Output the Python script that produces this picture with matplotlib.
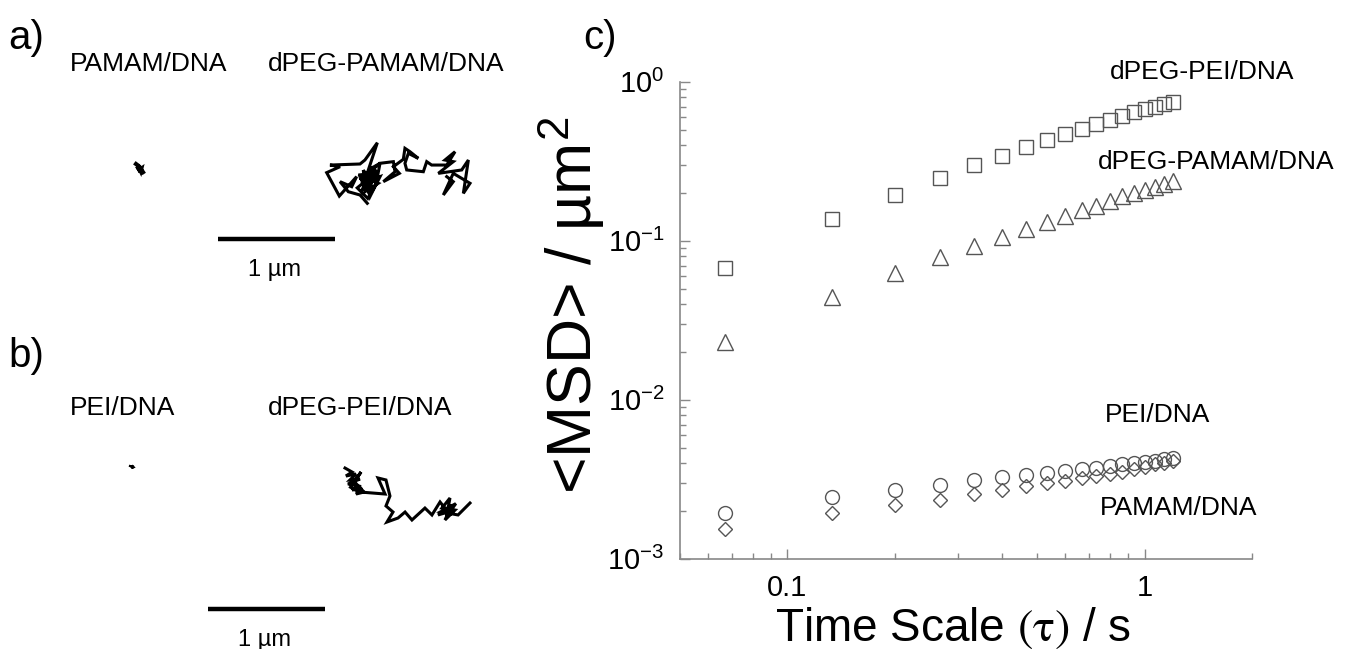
import numpy as np
import matplotlib
matplotlib.use("Agg")
from matplotlib import pyplot as plt
from matplotlib.ticker import FixedLocator, FixedFormatter, LogLocator, NullFormatter

plt.rcParams["font.family"] = ["Liberation Sans", "DejaVu Sans"]
plt.rcParams["mathtext.fontset"] = "stix"

W, H = 1359, 649
PX_PER_UM = 117.0

# --- panel c: ensemble MSD vs time scale ---
tau_s = [0.067, 0.133, 0.2, 0.267, 0.333, 0.4, 0.467, 0.533, 0.6,
         0.667, 0.733, 0.8, 0.867, 0.933, 1.0, 1.067, 1.133, 1.2]
msd_dpeg_pei = [0.068, 0.137, 0.195, 0.249, 0.30, 0.343, 0.39, 0.432, 0.471,
                0.506, 0.544, 0.577, 0.611, 0.648, 0.676, 0.696, 0.727, 0.748]
msd_dpeg_pamam = [0.0232, 0.0445, 0.063, 0.079, 0.093, 0.106, 0.119, 0.132, 0.144,
                  0.157, 0.166, 0.179, 0.192, 0.200, 0.209, 0.219, 0.228, 0.238]
msd_pei = [0.00195, 0.00245, 0.00272, 0.00292, 0.00314, 0.00328, 0.00338, 0.00348, 0.00357,
           0.00368, 0.00373, 0.00385, 0.00396, 0.0040, 0.00407, 0.00413, 0.00425, 0.00432]
msd_pamam = [0.00155, 0.00195, 0.00219, 0.00235, 0.00256, 0.00272, 0.00288, 0.00301, 0.0031,
             0.00323, 0.00333, 0.00343, 0.00353, 0.00368, 0.00379, 0.00396, 0.0040, 0.00413]

# --- panels a/b: single particle trajectories (um, image coordinates) ---
traj_pamam_x = [0.0, 0.02, 0.035, 0.025, 0.01, 0.03, 0.045, 0.04, 0.015, 0.03, 0.05, 0.06]
traj_pamam_y = [0.0, 0.015, 0.03, 0.045, 0.02, 0.05, 0.04, 0.06, 0.01, 0.035, 0.055, 0.07]

traj_dpeg_pamam_x = [0.746, 0.684, 0.584, 0.513, 0.613, 0.655, 0.507, 0.399, 0.513, 0.427,
                     0.684, 0.726, 0.832, 0.755, 0.855, 0.684, 0.826, 0.712, 0.812, 0.670,
                     0.840, 0.726, 0.798, 0.698, 0.855, 0.769,
                     0.72, 0.80, 0.70, 0.78, 0.74, 0.83, 0.69, 0.76, 0.81, 0.73,
                     0.79, 0.71, 0.77, 0.66, 0.75, 0.82,
                     0.855, 0.969, 0.983, 0.883,
                     1.020, 0.969, 1.054, 1.068, 1.111, 1.182, 1.097, 1.068, 1.083, 1.225,
                     1.254, 1.296, 1.425, 1.496, 1.410, 1.481, 1.353, 1.553, 1.610, 1.567,
                     1.624, 1.481, 1.396, 1.481, 1.425]
traj_dpeg_pamam_y = [0.712, 0.641, 0.613, 0.527, 0.570, 0.484, 0.650, 0.450, 0.399, 0.385,
                     0.376, 0.342, 0.194, 0.427, 0.370, 0.513, 0.427, 0.570, 0.456, 0.470,
                     0.541, 0.613, 0.399, 0.541, 0.484, 0.655,
                     0.46, 0.52, 0.60, 0.44, 0.55, 0.47, 0.50, 0.62, 0.40, 0.52,
                     0.58, 0.43, 0.49, 0.58, 0.67, 0.55,
                     0.370, 0.356, 0.442, 0.527,
                     0.456, 0.399, 0.336, 0.242, 0.271, 0.328, 0.285, 0.370, 0.427, 0.442,
                     0.356, 0.385, 0.385, 0.271, 0.342, 0.356, 0.456, 0.427, 0.342, 0.627,
                     0.541, 0.456, 0.641, 0.527, 0.484]

traj_pei_x = [0.0, 0.02, 0.01, 0.03, 0.015, 0.025]
traj_pei_y = [0.0, 0.005, 0.015, 0.01, -0.005, 0.012]

traj_dpeg_pei_x = [0.043, 0.103, 0.051, 0.137, 0.085, 0.171, 0.068, 0.154, 0.103, 0.188,
                   0.137, 0.205, 0.120, 0.180, 0.090, 0.160,
                   0.385, 0.325, 0.393, 0.427, 0.393, 0.453, 0.402, 0.496,
                   0.556, 0.615, 0.726, 0.786, 0.855, 0.923, 0.838, 0.957, 0.897, 0.983,
                   0.872, 0.940, 0.910, 0.990, 0.860, 1.009, 1.111]
traj_dpeg_pei_y = [0.026, 0.060, 0.094, 0.077, 0.128, 0.120, 0.162, 0.179, 0.214, 0.197,
                   0.248, 0.231, 0.140, 0.060, 0.190, 0.230,
                   0.248, 0.111, 0.128, 0.265, 0.350, 0.402, 0.487, 0.453,
                   0.402, 0.470, 0.368, 0.427, 0.316, 0.402, 0.427, 0.342, 0.470, 0.385,
                   0.368, 0.282, 0.440, 0.330, 0.400, 0.427, 0.325]

scale_bar_um = 1.0


def fx(x):
    return x / W


def fy(y):
    return 1 - y / H


fig = plt.figure(figsize=(W / 100, H / 100), dpi=100)

# left half: trajectories drawn in micrometres, 1 um = 117 px
ax0 = fig.add_axes([0, 0, 1, 1])
ax0.set_xlim(0, W / PX_PER_UM)
ax0.set_ylim(H / PX_PER_UM, 0)
ax0.axis("off")


def place(xs, ys, x_px, y_px, lw):
    ax0.plot(np.array(xs) + x_px / PX_PER_UM, np.array(ys) + y_px / PX_PER_UM,
             color="black", lw=lw, solid_joinstyle="miter")


place(traj_pamam_x, traj_pamam_y, 136, 164, 3.0)
place(traj_dpeg_pamam_x, traj_dpeg_pamam_y, 280, 120, 2.2)
place(traj_pei_x, traj_pei_y, 130, 466, 1.6)
place(traj_dpeg_pei_x, traj_dpeg_pei_y, 340, 465, 2.2)

for x_px, y_px in [(218, 239), (208, 609)]:
    x0 = x_px / PX_PER_UM
    ax0.plot([x0, x0 + scale_bar_um], [y_px / PX_PER_UM] * 2, color="black", lw=3.2,
             solid_capstyle="butt")
    fig.text(fx(x_px + 57), fy(y_px + 31), "1 µm", fontsize=17, ha="center", va="center")

fig.text(fx(8), fy(38), "a)", fontsize=29, ha="left", va="center")
fig.text(fx(70), fy(64), "PAMAM/DNA", fontsize=19, ha="left", va="center")
fig.text(fx(268), fy(64), "dPEG-PAMAM/DNA", fontsize=19, ha="left", va="center")
fig.text(fx(8), fy(356), "b)", fontsize=29, ha="left", va="center")
fig.text(fx(70), fy(408), "PEI/DNA", fontsize=19, ha="left", va="center")
fig.text(fx(268), fy(408), "dPEG-PEI/DNA", fontsize=19, ha="left", va="center")
fig.text(fx(583), fy(38), "c)", fontsize=29, ha="left", va="center")

# panel c
ax = fig.add_axes([fx(680), fy(559), (1252 - 680) / W, (559 - 82) / H])
ax.set_xscale("log")
ax.set_yscale("log")
ax.set_xlim(0.05, 2)
ax.set_ylim(1e-3, 1)

mk = dict(ls="none", mfc="none", mec="#555555", mew=1.0)
ax.plot(tau_s, msd_dpeg_pei, marker="s", ms=10, **mk)
ax.plot(tau_s, msd_dpeg_pamam, marker="^", ms=12, **mk)
ax.plot(tau_s, msd_pei, marker="o", ms=10, **mk)
ax.plot(tau_s, msd_pamam, marker="D", ms=7.5, **mk)

for s in ["top", "right"]:
    ax.spines[s].set_visible(False)
for s in ["left", "bottom"]:
    ax.spines[s].set_color("#888888")
    ax.spines[s].set_linewidth(1.2)

ax.xaxis.set_major_locator(FixedLocator([0.1, 1]))
ax.xaxis.set_major_formatter(FixedFormatter(["0.1", "1"]))
ax.xaxis.set_minor_locator(LogLocator(base=10, subs=np.arange(2, 10)))
ax.xaxis.set_minor_formatter(NullFormatter())
ax.yaxis.set_major_locator(FixedLocator([1e-3, 1e-2, 1e-1, 1]))
ax.yaxis.set_major_formatter(FixedFormatter([r"10$^{\mathregular{-3}}$", r"10$^{\mathregular{-2}}$",
                                             r"10$^{\mathregular{-1}}$", r"10$^{\mathregular{0}}$"]))
ax.yaxis.set_minor_locator(LogLocator(base=10, subs=np.arange(2, 10)))
ax.yaxis.set_minor_formatter(NullFormatter())
ax.tick_params(which="both", direction="in", color="#888888", width=1.0)
ax.tick_params(which="major", length=7, labelsize=21, pad=11)
ax.tick_params(which="minor", length=4)

ax.text(fx(1110), fy(72), "dPEG-PEI/DNA", fontsize=19, ha="left", va="center",
        transform=fig.transFigure)
ax.text(fx(1098), fy(162), "dPEG-PAMAM/DNA", fontsize=19, ha="left", va="center",
        transform=fig.transFigure)
ax.text(fx(1105), fy(415), "PEI/DNA", fontsize=19, ha="left", va="center",
        transform=fig.transFigure)
ax.text(fx(1100), fy(508), "PAMAM/DNA", fontsize=19, ha="left", va="center",
        transform=fig.transFigure)

fig.text(fx(607), fy(305), r"<MSD> / µm$^\mathregular{2}$", fontsize=45, rotation=90,
         ha="right", va="center")
fig.text(fx(953), fy(628), r"Time Scale $(\mathrm{\tau})$ / s", fontsize=33,
         ha="center", va="center")

fig.savefig("out.png", dpi=100)
